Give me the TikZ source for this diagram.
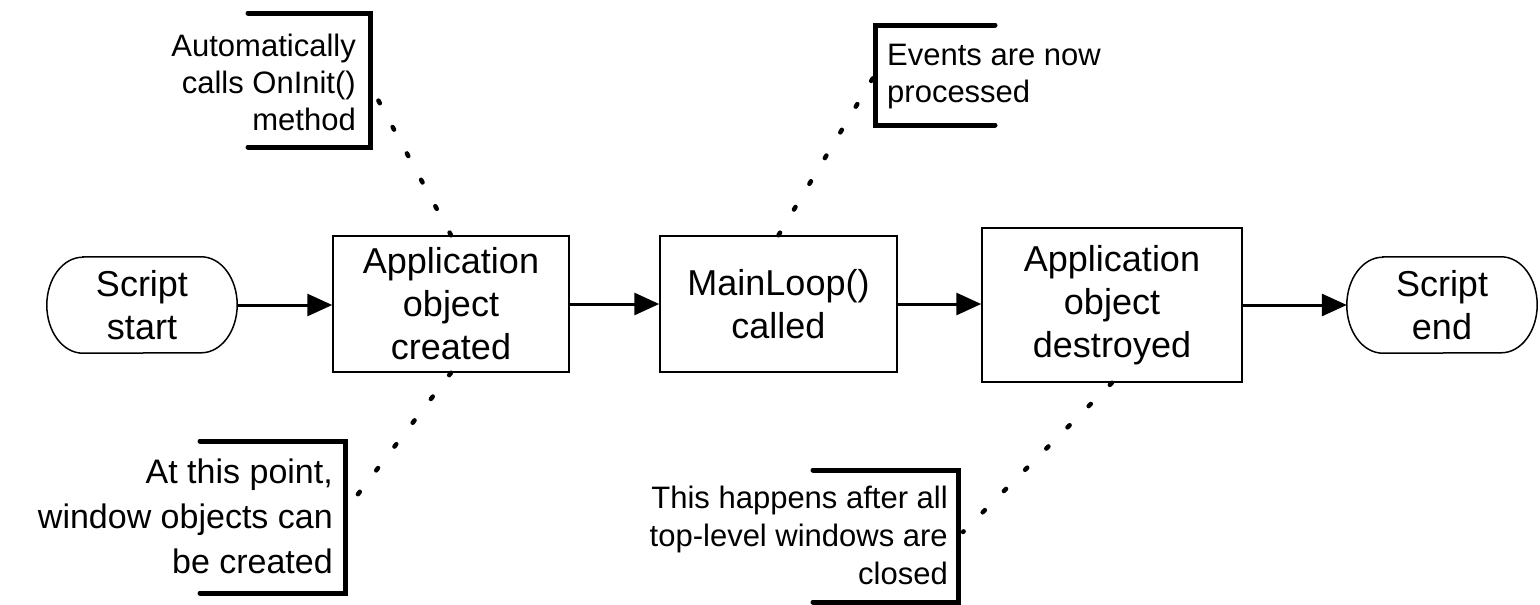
\documentclass[tikz,border=0pt]{standalone}
\usepackage{fontspec}
\setmainfont{Liberation Sans}
\usetikzlibrary{arrows.meta,calc}
\tikzset{
  mainfont/.style={font=\fontsize{36}{43}\selectfont},
  box/.style={draw, line width=1.5pt, align=center, inner sep=0pt, mainfont},
  term/.style={align=center, inner sep=0pt, minimum width=190pt, minimum height=96pt, mainfont},
  termline/.style={line width=1.5pt},
  flow/.style={line width=3pt, -{Triangle[length=25pt,width=22pt]}},
  note/.style={inner sep=0pt, font=\fontsize{31}{37}\selectfont},
  bracket/.style={line width=5pt, line cap=round, line join=miter},
  dots/.style={line width=4.5pt, line cap=round, dash pattern=on 3pt off 27pt},
}
\begin{document}
\begin{tikzpicture}[x=1pt,y=-1pt]
\useasboundingbox (0,0) rectangle (1540,605);
% flow nodes
\node[term] (sstart) at (142,305) {Script\\start};
\node[box, minimum width=236pt, minimum height=136pt] (box1) at (451,304) {Application\\object\\created};
\node[box, minimum width=237pt, minimum height=136pt] (box2) at (778.5,304) {MainLoop()\\called};
\node[box, minimum width=260pt, minimum height=154pt] (box3) at (1112,305) {Application\\object\\destroyed};
\node[term] (send) at (1442,305) {Script\\end};
\foreach \n in {sstart,send}
  \draw[termline] ([xshift=36pt]\n.north west) -- ([xshift=-36pt]\n.north east)
    arc[start angle=90,end angle=-90,x radius=36pt,y radius=48pt]
    -- ([xshift=36pt]\n.south west)
    arc[start angle=270,end angle=90,x radius=36pt,y radius=48pt] -- cycle;
% arrows
\draw[flow] (sstart.east) -- (sstart.east -| box1.west);
\draw[flow] (box1.east) -- (box1.east -| box2.west);
\draw[flow] (box2.east) -- (box2.east -| box3.west);
\draw[flow] (box3.east) -- (box3.east -| send.west);
% notes
\node[note, align=right, anchor=east] (n1) at (356,82) {Automatically\\calls OnInit()\\method};
\node[note, align=left, anchor=west] (n2) at (887,77) {Events are now\\processed};
\node[note, align=right, anchor=east, font=\fontsize{34}{45}\selectfont] (n3) at (333,516) {At this point,\\window objects can\\be created};
\node[note, align=right, anchor=east, font=\fontsize{31}{38}\selectfont] (n4) at (948,535) {This happens after all\\top-level windows are\\closed};
% brackets
\draw[bracket] (248,13) -| (370,147) -- (248,147);
\draw[bracket] (995,25) -| (875,125) -- (995,125);
\draw[bracket] (200,441) -| (345,593) -- (200,593);
\draw[bracket] (813,470) -| (958,602) -- (813,602);
% dotted connectors
\coordinate (c1) at (377,98);
\coordinate (c2) at (873,78);
\coordinate (c3) at (352,502);
\coordinate (c4) at (963,532);
\draw[dots] (box1.north) -- (c1);
\draw[dots] (box2.north) -- (c2);
\draw[dots] (box1.south) -- (c3);
\draw[dots] (box3.south) -- (c4);
\end{tikzpicture}
\end{document}
